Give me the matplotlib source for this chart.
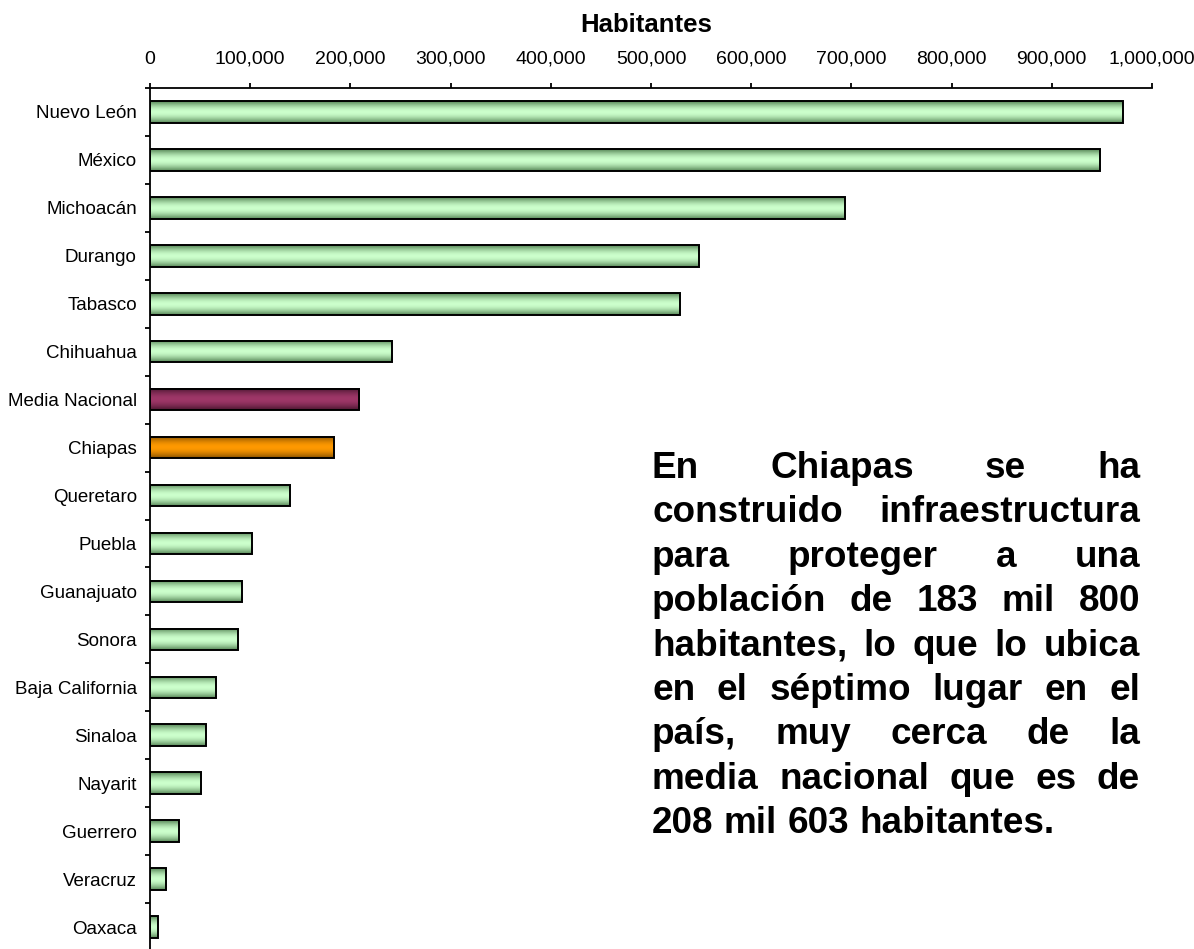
import numpy as np
import matplotlib
matplotlib.use("Agg")
import matplotlib.pyplot as plt
from matplotlib.ticker import FuncFormatter, FixedLocator

plt.rcParams['font.family'] = ['Liberation Sans', 'DejaVu Sans']

# datos
estados = ["Nuevo León", "México", "Michoacán", "Durango", "Tabasco", "Chihuahua",
           "Media Nacional", "Chiapas", "Queretaro", "Puebla", "Guanajuato", "Sonora",
           "Baja California", "Sinaloa", "Nayarit", "Guerrero", "Veracruz", "Oaxaca"]
habitantes = [971000, 948500, 694000, 548000, 529000, 242000,
              208603, 183800, 140000, 102000, 92000, 88000,
              66000, 56000, 51000, 28500, 16000, 7500]
destacados = {"Media Nacional": ("#9e3768", "#4f1833"),
              "Chiapas": ("#ff9900", "#8f5600")}
verde = ("#ccffcc", "#5c8c5c")

texto = ["En Chiapas se ha",
         "construido infraestructura",
         "para proteger a una",
         "población de 183 mil 800",
         "habitantes, lo que lo ubica",
         "en el séptimo lugar en el",
         "país, muy cerca de la",
         "media nacional que es de",
         "208 mil 603 habitantes."]

W, H = 1194, 949
fig = plt.figure(figsize=(W/100, H/100), dpi=100)
ax = fig.add_axes([150/W, 1-951/H, 1002/W, 863/H])

y = np.arange(len(estados))
alto = 0.45
t = np.linspace(0, 1, 40)
perfil = np.sin(np.pi*t)**1.1

for i, (nom, val) in enumerate(zip(estados, habitantes)):
    claro, oscuro = destacados.get(nom, verde)
    c1 = np.array(matplotlib.colors.to_rgb(claro))
    c2 = np.array(matplotlib.colors.to_rgb(oscuro))
    grad = (c2[None, :] + (c1 - c2)[None, :]*perfil[:, None])[:, None, :]
    ax.imshow(grad, extent=[0, val, i+alto/2, i-alto/2], aspect='auto',
              interpolation='bilinear', zorder=1)

ax.barh(y, habitantes, height=alto, fill=False, edgecolor='black', linewidth=1.4, zorder=2)

ax.set_xlim(0, 1000000)
ax.set_ylim(len(estados)-0.5, -0.5)
ax.set_aspect('auto')

ax.xaxis.tick_top()
ax.set_xticks(np.arange(0, 1000001, 100000))
ax.xaxis.set_major_formatter(FuncFormatter(lambda v, p: f"{int(v):,}"))
ax.tick_params(axis='x', direction='out', length=3.6, width=1.3, pad=11, labelsize=14)

ax.set_yticks(y)
ax.set_yticklabels(estados, fontsize=13.5)
ax.yaxis.set_minor_locator(FixedLocator(np.arange(-0.5, len(estados), 1)))
ax.tick_params(axis='y', which='major', length=0, pad=9.5)
ax.tick_params(axis='y', which='minor', length=3.6, width=1.3, direction='out')

for s in ['right', 'bottom']:
    ax.spines[s].set_visible(False)
for s in ['top', 'left']:
    ax.spines[s].set_linewidth(1.3)

fig.text(646/W, 1-32/H, "Habitantes", ha='center', va='baseline',
         fontsize=18.5, fontweight='bold')

# parrafo justificado
x0, x1 = 652, 1140
base0, salto = 478, 44.4
fs = 26.6
renderer = fig.canvas.get_renderer()
for k, linea in enumerate(texto):
    palabras = linea.split()
    yb = 1 - (base0 + k*salto)/H
    objs = [fig.text(0, yb, p, fontsize=fs, fontweight='bold', va='baseline') for p in palabras]
    anchos = [o.get_window_extent(renderer).width for o in objs]
    if k == len(texto)-1 or len(palabras) == 1:
        hueco = fs*100/72*0.278
    else:
        hueco = (x1 - x0 - sum(anchos))/(len(palabras)-1)
    x = x0
    for o, a in zip(objs, anchos):
        o.set_x(x/W)
        x += a + hueco

fig.savefig("out.png", dpi=100)
